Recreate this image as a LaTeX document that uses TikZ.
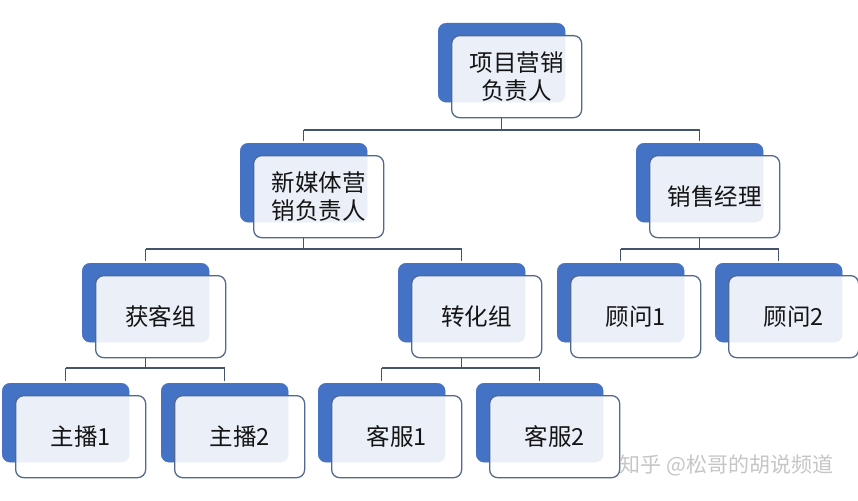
\documentclass[tikz,border=0pt]{standalone}
\usepackage{fontspec}
\setmainfont{Noto Sans CJK SC}
\definecolor{boxblue}{HTML}{4472C4}
\definecolor{frameblue}{HTML}{52688C}
\definecolor{linecol}{HTML}{44546A}
\tikzset{
  backbox/.style={fill=boxblue, draw=boxblue, rounded corners=8pt, minimum width=127pt, minimum height=79pt, anchor=north west, inner sep=0pt},
  frontbox/.style={fill=white, fill opacity=0.89, text opacity=1, draw=frameblue, line width=1.3pt, rounded corners=8pt, minimum width=130pt, minimum height=82pt, anchor=north west, inner sep=0pt, align=center, font=\fontsize{23.5}{28}\selectfont, text=black!92},
  conn/.style={draw=linecol, line width=1.4pt},
  watermark/.style={text=gray!45, font=\fontsize{21}{24}\selectfont}
}
\newcommand{\orgbox}[4]{%
  \node[backbox] (#1b) at (#2,#3) {};
  \node[frontbox] (#1) at ([shift={(13pt,-12pt)}]#1b.north west) {#4};
}
\begin{document}
\begin{tikzpicture}[x=1pt,y=-1pt]
\useasboundingbox (0,0) rectangle (858,500);
\fill[white] (0,0) rectangle (858,500);
\orgbox{top}{438}{23}{项目营销\\负责人}
\orgbox{xmt}{240}{143}{新媒体营\\销负责人}
\orgbox{xsj}{636}{143}{销售经理}
\orgbox{hkz}{82}{263}{获客组}
\orgbox{zhz}{398}{263}{转化组}
\orgbox{gw1}{557}{263}{顾问1}
\orgbox{gw2}{715}{263}{顾问2}
\orgbox{zb1}{2}{383}{主播1}
\orgbox{zb2}{161}{383}{主播2}
\orgbox{kf1}{318}{383}{客服1}
\orgbox{kf2}{476}{383}{客服2}
% connector levels
\coordinate (h1) at (0,130);
\coordinate (h2) at (0,249);
\coordinate (h3) at (0,368);
\draw[conn] (topb |- top.south) -- (topb |- h1);
\draw[conn, shorten >=2pt] (xmtb |- h1) -- (xmtb.north);
\draw[conn, shorten >=2pt] (xsjb |- h1) -- (xsjb.north);
\draw[conn] (xmtb |- h1) -- (xsjb |- h1);
\draw[conn] (xmtb |- xmt.south) -- (xmtb |- h2);
\draw[conn] (hkzb |- h2) -- (zhzb |- h2);
\draw[conn, shorten >=2pt] (hkzb |- h2) -- (hkzb.north);
\draw[conn, shorten >=2pt] (zhzb |- h2) -- (zhzb.north);
\draw[conn] (xsjb |- xsj.south) -- (xsjb |- h2);
\draw[conn] (gw1b |- h2) -- (gw2b |- h2);
\draw[conn, shorten >=2pt] (gw1b |- h2) -- (gw1b.north);
\draw[conn, shorten >=2pt] (gw2b |- h2) -- (gw2b.north);
\draw[conn] (hkzb |- hkz.south) -- (hkzb |- h3);
\draw[conn] (zb1b |- h3) -- (zb2b |- h3);
\draw[conn, shorten >=2pt] (zb1b |- h3) -- (zb1b.north);
\draw[conn, shorten >=2pt] (zb2b |- h3) -- (zb2b.north);
\draw[conn] (zhzb |- zhz.south) -- (zhzb |- h3);
\draw[conn] (kf1b |- h3) -- (kf2b |- h3);
\draw[conn, shorten >=2pt] (kf1b |- h3) -- (kf1b.north);
\draw[conn, shorten >=2pt] (kf2b |- h3) -- (kf2b.north);
\node[watermark, anchor=west] (wm) at (616,465) {知乎 @松哥的胡说频道};
\end{tikzpicture}
\end{document}
